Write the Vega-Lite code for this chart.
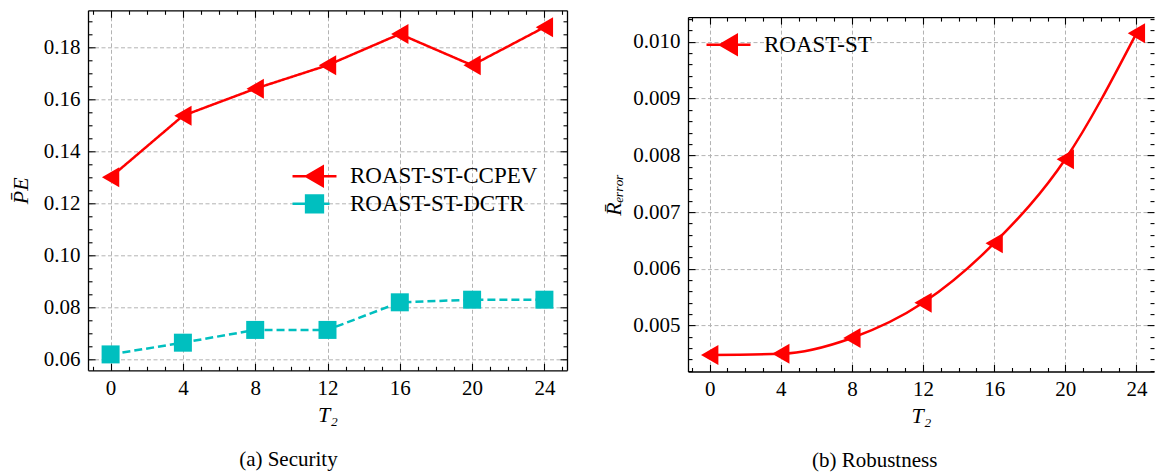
{
  "$schema": "https://vega.github.io/schema/vega-lite/v6.json",
  "padding": {"left": 9, "top": 7.3, "right": 0, "bottom": 0},
  "spacing": 34,
  "datasets": {
    "security": [
      {"T2": 0, "method": "ROAST-ST-CCPEV", "value": 0.130},
      {"T2": 4, "method": "ROAST-ST-CCPEV", "value": 0.1536},
      {"T2": 8, "method": "ROAST-ST-CCPEV", "value": 0.164},
      {"T2": 12, "method": "ROAST-ST-CCPEV", "value": 0.173},
      {"T2": 16, "method": "ROAST-ST-CCPEV", "value": 0.185},
      {"T2": 20, "method": "ROAST-ST-CCPEV", "value": 0.173},
      {"T2": 24, "method": "ROAST-ST-CCPEV", "value": 0.1876},
      {"T2": 0, "method": "ROAST-ST-DCTR", "value": 0.062},
      {"T2": 4, "method": "ROAST-ST-DCTR", "value": 0.0665},
      {"T2": 8, "method": "ROAST-ST-DCTR", "value": 0.0714},
      {"T2": 12, "method": "ROAST-ST-DCTR", "value": 0.0714},
      {"T2": 16, "method": "ROAST-ST-DCTR", "value": 0.082},
      {"T2": 20, "method": "ROAST-ST-DCTR", "value": 0.083},
      {"T2": 24, "method": "ROAST-ST-DCTR", "value": 0.083}
    ],
    "robustness": [
      {"T2": 0, "method": "ROAST-ST", "value": 0.00448},
      {"T2": 4, "method": "ROAST-ST", "value": 0.0045},
      {"T2": 8, "method": "ROAST-ST", "value": 0.00478},
      {"T2": 12, "method": "ROAST-ST", "value": 0.0054},
      {"T2": 16, "method": "ROAST-ST", "value": 0.00645},
      {"T2": 20, "method": "ROAST-ST", "value": 0.00793},
      {"T2": 24, "method": "ROAST-ST", "value": 0.01015}
    ],
    "spacer": [{"k": 0}]
  },
  "resolve": {"scale": {"color": "independent"}, "legend": {"color": "independent"}},
  "hconcat": [
    {
      "width": 479,
      "height": 360,
      "data": {"name": "security"},
      "title": {"text": "(a) Security", "orient": "bottom", "anchor": "middle", "frame": "bounds", "offset": 24, "font": "Liberation Serif", "fontSize": 21, "fontWeight": "normal", "color": "#000"},
      "layer": [
        {
          "mark": {"type": "line", "strokeWidth": 2.5},
          "encoding": {
            "x": {"field": "T2", "type": "quantitative", "scale": {"domain": [-1.25, 25.25], "nice": false, "zero": false},
              "axis": {"orient": "bottom", "values": [-1,0,1,2,3,4,5,6,7,8,9,10,11,12,13,14,15,16,17,18,19,20,21,22,23,24,25], "format": "d",
                "labelExpr": "datum.value % 4 === 0 ? datum.label : ''",
                "tickSize": {"condition": {"test": "datum.value % 4 === 0", "value": -7}, "value": -4},
                "gridOpacity": {"condition": {"test": "datum.value % 4 === 0", "value": 1}, "value": 0},
                "labelPadding": 14, "title": "T₂", "titlePadding": 3}},
            "y": {"field": "value", "type": "quantitative", "scale": {"domain": [0.0559, 0.1941], "nice": false, "zero": false},
              "axis": {"orient": "left", "values": [0.06,0.065,0.07,0.075,0.08,0.085,0.09,0.095,0.1,0.105,0.11,0.115,0.12,0.125,0.13,0.135,0.14,0.145,0.15,0.155,0.16,0.165,0.17,0.175,0.18,0.185,0.19], "format": ".2f",
                "labelExpr": "round(datum.value*1000) % 20 === 0 ? datum.label : ''",
                "tickSize": {"condition": {"test": "round(datum.value*1000) % 20 === 0", "value": -7}, "value": -4},
                "gridOpacity": {"condition": {"test": "round(datum.value*1000) % 20 === 0", "value": 1}, "value": 0},
                "labelPadding": 15, "title": "P̄E", "titlePadding": 11}},
            "color": {"field": "method", "type": "nominal", "scale": {"domain": ["ROAST-ST-CCPEV", "ROAST-ST-DCTR"], "range": ["#ff0000", "#00bfbf"]},
              "legend": {"values": ["ROAST-ST-CCPEV"], "orient": "none", "legendX": 211, "legendY": 150.5, "title": null, "padding": 0, "rowPadding": 0, "symbolSize": 784, "symbolStrokeWidth": 2.5, "labelOffset": 20, "labelLimit": 400,
                "labelFont": "Liberation Serif", "labelFontSize": 23, "labelColor": "#000",
                "encode": {"symbols": {"update": {
                  "shape": {"value": "M-1.571,0H1.571M-0.59,0L0.59,-0.68L0.59,0.68Z"},
                  "fill": {"value": "#ff0000"},
                  "stroke": {"value": "#ff0000"},
                  "opacity": {"value": 1},
                  "fillOpacity": {"value": 1}
                }}}}},
            "strokeDash": {"field": "method", "type": "nominal", "scale": {"domain": ["ROAST-ST-CCPEV", "ROAST-ST-DCTR"], "range": [[1, 0], [8, 4]]}, "legend": null},
            "strokeWidth": {"field": "method", "type": "nominal", "scale": {"domain": ["ROAST-ST-DCTR", "ROAST-ST-CCPEV"], "range": [2.5, 2.5]},
              "legend": {"values": ["ROAST-ST-DCTR"], "orient": "none", "legendX": 211, "legendY": 178, "title": null, "padding": 0, "rowPadding": 0, "symbolSize": 784, "labelOffset": 20, "labelLimit": 400,
                "labelFont": "Liberation Serif", "labelFontSize": 23, "labelColor": "#000",
                "encode": {"symbols": {"update": {
                  "shape": {"value": "M-1.571,0H-0.6M0.6,0H1.071M-0.6,-0.6H0.6V0.6H-0.6Z"},
                  "fill": {"value": "#00bfbf"},
                  "stroke": {"value": "#00bfbf"},
                  "strokeWidth": {"value": 2.5},
                  "opacity": {"value": 1},
                  "fillOpacity": {"value": 1}
                }}}}}
          }
        },
        {
          "mark": {"type": "point", "filled": true, "opacity": 1},
          "encoding": {
            "x": {"field": "T2", "type": "quantitative", "axis": null},
            "y": {"field": "value", "type": "quantitative", "axis": null},
            "fill": {"field": "method", "type": "nominal", "scale": {"domain": ["ROAST-ST-CCPEV", "ROAST-ST-DCTR"], "range": ["#ff0000", "#00bfbf"]}, "legend": null},
            "shape": {"field": "method", "type": "nominal", "scale": {"domain": ["ROAST-ST-CCPEV", "ROAST-ST-DCTR"], "range": ["triangle-left", "square"]}, "legend": null},
            "size": {"field": "method", "type": "nominal", "scale": {"domain": ["ROAST-ST-CCPEV", "ROAST-ST-DCTR"], "range": [400, 324]}, "legend": null}
          }
        },
        {
          "mark": {"type": "point", "opacity": 0},
          "encoding": {
            "x": {"field": "T2", "type": "quantitative",
              "axis": {"orient": "top", "values": [-1,0,1,2,3,4,5,6,7,8,9,10,11,12,13,14,15,16,17,18,19,20,21,22,23,24,25], "labels": false, "grid": false, "title": null,
                "tickSize": {"condition": {"test": "datum.value % 4 === 0", "value": -7}, "value": -4}}},
            "y": {"field": "value", "type": "quantitative",
              "axis": {"orient": "right", "values": [0.06,0.065,0.07,0.075,0.08,0.085,0.09,0.095,0.1,0.105,0.11,0.115,0.12,0.125,0.13,0.135,0.14,0.145,0.15,0.155,0.16,0.165,0.17,0.175,0.18,0.185,0.19], "labels": false, "grid": false, "title": null,
                "tickSize": {"condition": {"test": "round(datum.value*1000) % 20 === 0", "value": -7}, "value": -4}}}
          }
        }
      ],
      "resolve": {"axis": {"x": "independent", "y": "independent"}}
    },
    {
      "title": {"text": "(b) Robustness", "orient": "bottom", "anchor": "middle", "frame": "bounds", "offset": 24, "dx": -4, "font": "Liberation Serif", "fontSize": 21, "fontWeight": "normal", "color": "#000"},
      "spacing": -3.2,
      "vconcat": [
        {
          "width": 466,
          "height": 1,
          "data": {"name": "spacer"},
          "mark": {"type": "rule", "opacity": 0},
          "encoding": {}
        },
        {
          "width": 466,
          "height": 354.4,
          "data": {"name": "robustness"},
          "layer": [
            {
              "mark": {"type": "line", "strokeWidth": 2.5, "interpolate": "monotone"},
              "encoding": {
                "x": {"field": "T2", "type": "quantitative", "scale": {"domain": [-1.22, 24.99], "nice": false, "zero": false},
                  "axis": {"orient": "bottom", "values": [-1,0,1,2,3,4,5,6,7,8,9,10,11,12,13,14,15,16,17,18,19,20,21,22,23,24], "format": "d",
                    "labelExpr": "datum.value % 4 === 0 ? datum.label : ''",
                    "tickSize": {"condition": {"test": "datum.value % 4 === 0", "value": -7}, "value": -4},
                    "gridOpacity": {"condition": {"test": "datum.value % 4 === 0", "value": 1}, "value": 0},
                    "labelPadding": 14, "title": "T₂", "titlePadding": 3}},
                "y": {"field": "value", "type": "quantitative", "scale": {"domain": [0.004189, 0.010436], "nice": false, "zero": false},
                  "axis": {"orient": "left", "values": [0.0042,0.0044,0.0046,0.0048,0.005,0.0052,0.0054,0.0056,0.0058,0.006,0.0062,0.0064,0.0066,0.0068,0.007,0.0072,0.0074,0.0076,0.0078,0.008,0.0082,0.0084,0.0086,0.0088,0.009,0.0092,0.0094,0.0096,0.0098,0.01,0.0102,0.0104], "format": ".3f",
                    "labelExpr": "round(datum.value*10000) % 10 === 0 ? datum.label : ''",
                    "tickSize": {"condition": {"test": "round(datum.value*10000) % 10 === 0", "value": -7}, "value": -4},
                    "gridOpacity": {"condition": {"test": "round(datum.value*10000) % 10 === 0", "value": 1}, "value": 0},
                    "labelPadding": 15, "title": "R̄ₑᵣᵣₒᵣ", "titlePadding": 7}},
                "color": {"field": "method", "type": "nominal", "scale": {"domain": ["ROAST-ST"], "range": ["#ff0000"]},
                  "legend": {"orient": "none", "legendX": 25, "legendY": 19, "title": null, "padding": 0, "rowPadding": 0, "symbolSize": 784, "symbolStrokeWidth": 2.5, "labelOffset": 20, "labelLimit": 400,
                    "labelFont": "Liberation Serif", "labelFontSize": 23, "labelColor": "#000",
                    "encode": {"symbols": {"update": {
                      "shape": {"value": "M-1.571,0H1.571M-0.59,0L0.59,-0.68L0.59,0.68Z"},
                      "fill": {"value": "#ff0000"},
                      "stroke": {"value": "#ff0000"},
                      "opacity": {"value": 1},
                      "fillOpacity": {"value": 1}
                    }}}}}
              }
            },
            {
              "mark": {"type": "point", "filled": true, "opacity": 1, "shape": "triangle-left", "size": 400, "color": "#ff0000"},
              "encoding": {
                "x": {"field": "T2", "type": "quantitative", "axis": null},
                "y": {"field": "value", "type": "quantitative", "axis": null}
              }
            },
            {
              "mark": {"type": "point", "opacity": 0},
              "encoding": {
                "x": {"field": "T2", "type": "quantitative",
                  "axis": {"orient": "top", "values": [-1,0,1,2,3,4,5,6,7,8,9,10,11,12,13,14,15,16,17,18,19,20,21,22,23,24], "labels": false, "grid": false, "title": null,
                    "tickSize": {"condition": {"test": "datum.value % 4 === 0", "value": -7}, "value": -4}}},
                "y": {"field": "value", "type": "quantitative",
                  "axis": {"orient": "right", "domain": false, "values": [0.0042,0.0044,0.0046,0.0048,0.005,0.0052,0.0054,0.0056,0.0058,0.006,0.0062,0.0064,0.0066,0.0068,0.007,0.0072,0.0074,0.0076,0.0078,0.008,0.0082,0.0084,0.0086,0.0088,0.009,0.0092,0.0094,0.0096,0.0098,0.01,0.0102,0.0104], "labels": false, "grid": false, "title": null,
                    "tickSize": {"condition": {"test": "round(datum.value*10000) % 10 === 0", "value": -7}, "value": -4}}}
              }
            }
          ],
          "resolve": {"axis": {"x": "independent", "y": "independent"}}
        }
      ]
    }
  ],
  "config": {
    "view": {"stroke": null},
    "axis": {
      "labelFont": "Liberation Serif", "labelFontSize": 21, "labelColor": "#000",
      "titleFont": "Liberation Serif", "titleFontSize": 22, "titleFontWeight": "normal", "titleFontStyle": "italic", "titleColor": "#000",
      "domainColor": "#000", "domainWidth": 1.3, "tickColor": "#000", "tickWidth": 1.1,
      "gridColor": "#b3b3b3", "gridDash": [4, 2.5], "gridWidth": 1,
      "labelFlush": false, "labelOverlap": false
    }
  }
}
